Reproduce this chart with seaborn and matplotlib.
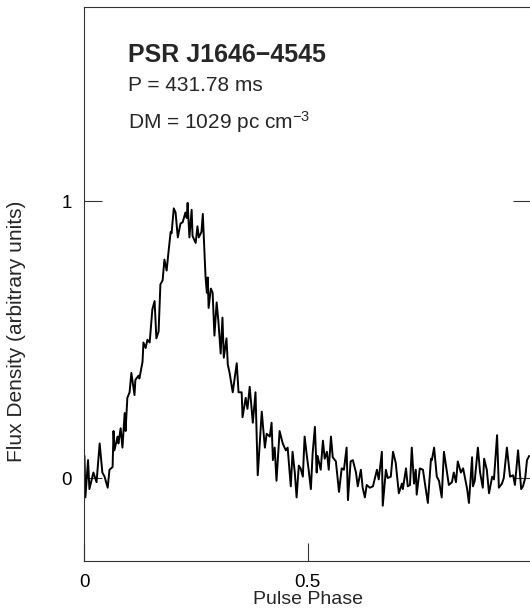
import numpy as np
import pandas as pd
import matplotlib
matplotlib.use("Agg")
import matplotlib.pyplot as plt
import seaborn as sns

# pulse profile (phase, normalised flux)
phase = [0.000, 0.002, 0.008, 0.011, 0.020, 0.027, 0.034, 0.040, 0.045, 0.052,
         0.056, 0.063, 0.065, 0.067, 0.074, 0.076, 0.081, 0.085, 0.090, 0.092,
         0.096, 0.101, 0.105, 0.112, 0.114, 0.121, 0.123, 0.130, 0.132, 0.137,
         0.141, 0.146, 0.152, 0.157, 0.161, 0.166, 0.170, 0.175, 0.179, 0.184,
         0.188, 0.193, 0.195, 0.200, 0.204, 0.209, 0.215, 0.220, 0.226, 0.229,
         0.231, 0.235, 0.240, 0.242, 0.249, 0.253, 0.256, 0.262, 0.265, 0.271,
         0.274, 0.276, 0.278, 0.283, 0.287, 0.291, 0.296, 0.300, 0.305, 0.309,
         0.312, 0.318, 0.321, 0.325, 0.332, 0.341, 0.345, 0.352, 0.354, 0.361,
         0.365, 0.370, 0.377, 0.383, 0.388, 0.397, 0.404, 0.408, 0.415, 0.419,
         0.422, 0.426, 0.430, 0.437, 0.444, 0.451, 0.455, 0.462, 0.466, 0.471,
         0.475, 0.480, 0.484, 0.489, 0.493, 0.498, 0.502, 0.507, 0.511, 0.516,
         0.520, 0.522, 0.529, 0.534, 0.538, 0.543, 0.547, 0.552, 0.556, 0.563,
         0.570, 0.576, 0.581, 0.587, 0.590, 0.596, 0.601, 0.608, 0.612, 0.619,
         0.623, 0.628, 0.632, 0.639, 0.646, 0.655, 0.659, 0.666, 0.668, 0.675,
         0.679, 0.686, 0.691, 0.697, 0.704, 0.711, 0.713, 0.720, 0.724, 0.729,
         0.733, 0.738, 0.742, 0.744, 0.751, 0.758, 0.762, 0.769, 0.776, 0.778,
         0.783, 0.789, 0.794, 0.800, 0.805, 0.812, 0.816, 0.823, 0.827, 0.832,
         0.836, 0.843, 0.848, 0.857, 0.861, 0.868, 0.870, 0.874, 0.881, 0.886,
         0.892, 0.895, 0.901, 0.906, 0.913, 0.917, 0.924, 0.928, 0.935, 0.939,
         0.946, 0.953, 0.960, 0.964, 0.971, 0.978, 0.982, 0.987, 0.991, 0.996]
flux = [0.08, -0.07, 0.065, -0.04, 0.02, -0.015, 0.125, 0.02, 0.005, -0.035,
        0.03, 0.04, 0.17, 0.10, 0.15, 0.125, 0.18, 0.11, 0.235, 0.17,
        0.29, 0.31, 0.38, 0.30, 0.355, 0.37, 0.36, 0.42, 0.49, 0.47,
        0.50, 0.49, 0.61, 0.64, 0.505, 0.53, 0.70, 0.715, 0.79, 0.75,
        0.815, 0.89, 0.885, 0.975, 0.96, 0.87, 0.92, 0.925, 0.96, 0.94,
        0.995, 0.87, 0.97, 0.875, 0.85, 0.91, 0.87, 0.89, 0.955, 0.73,
        0.67, 0.725, 0.615, 0.685, 0.67, 0.515, 0.635, 0.565, 0.45, 0.58,
        0.435, 0.505, 0.41, 0.38, 0.31, 0.415, 0.31, 0.31, 0.22, 0.29,
        0.25, 0.33, 0.20, 0.31, 0.01, 0.24, 0.11, 0.16, 0.15, 0.20,
        0.065, 0.11, -0.01, 0.17, 0.125, 0.10, 0.11, -0.03, 0.095, 0.02,
        -0.07, 0.045, 0.035, 0.005, 0.15, 0.08, 0.03, -0.04, 0.09, 0.185,
        0.02, 0.08, 0.03, 0.135, 0.07, 0.095, 0.03, 0.15, 0.075, 0.06,
        -0.05, 0.035, 0.03, 0.11, -0.08, 0.06, 0.065, 0.02, -0.03, 0.03,
        -0.035, -0.07, -0.025, -0.035, -0.03, 0.03, -0.005, 0.095, -0.10, 0.03,
        0.0, 0.005, 0.095, 0.055, -0.055, -0.02, -0.04, 0.035, -0.03, -0.025,
        0.11, -0.02, 0.03, -0.06, 0.035, 0.03, -0.015, -0.09, 0.07, 0.065,
        0.11, 0.005, -0.01, -0.07, 0.095, 0.02, -0.025, -0.015, 0.02, -0.015,
        0.06, 0.02, 0.035, -0.04, -0.09, 0.075, -0.03, -0.01, 0.11, 0.02,
        -0.035, 0.07, 0.03, -0.055, 0.005, -0.005, 0.155, -0.035, -0.02, 0.0,
        0.11, 0.005, 0.01, -0.025, 0.10, -0.04, -0.03, 0.0, 0.065, 0.08]

pulsar_name = "PSR J1646\u22124545"
period_text = "P = 431.78 ms"
dm_text = "DM = 1029 pc cm$^{\u22123}$"

df = pd.DataFrame({"phase": phase, "flux": flux})

sns.set_style("ticks")
plt.rcParams["font.family"] = ["Liberation Sans", "DejaVu Sans"]
plt.rcParams["mathtext.default"] = "regular"

fig = plt.figure(figsize=(5.3, 6.1), dpi=100)
ax = fig.add_axes([0.1594, 0.0803, 0.8425, 0.9082])

sns.lineplot(data=df, x="phase", y="flux", ax=ax, color="black",
             linewidth=1.4, estimator=None, sort=False)

ax.set_xlim(0, 1)
ax.set_ylim(-0.300, 1.703)
ax.set_xticks([0, 0.5])
ax.set_xticklabels(["0", "0.5"])
ax.set_yticks([0, 1])
ax.set_yticklabels(["0", "1"])
ax.tick_params(direction="in", length=13, width=0.8, colors="#333333",
               labelcolor="black", labelsize=13.5, right=True, top=False, pad=9)
for s in ax.spines.values():
    s.set_color("#333333")
    s.set_linewidth(0.8)
    s.set_visible(True)

ax.set_xlabel("Pulse Phase", fontsize=14, labelpad=0)
ax.set_ylabel("Flux Density (arbitrary units)", fontsize=15)
ax.yaxis.set_label_coords(-0.13, 0.415)

ax.text(0.097, 1.503, pulsar_name, fontsize=18, fontweight="bold",
        va="baseline", ha="left")
ax.text(0.097, 1.400, period_text, fontsize=15, va="baseline", ha="left")
ax.text(0.097, 1.262, dm_text, fontsize=15, va="baseline", ha="left")

fig.savefig("out.png", dpi=100)
